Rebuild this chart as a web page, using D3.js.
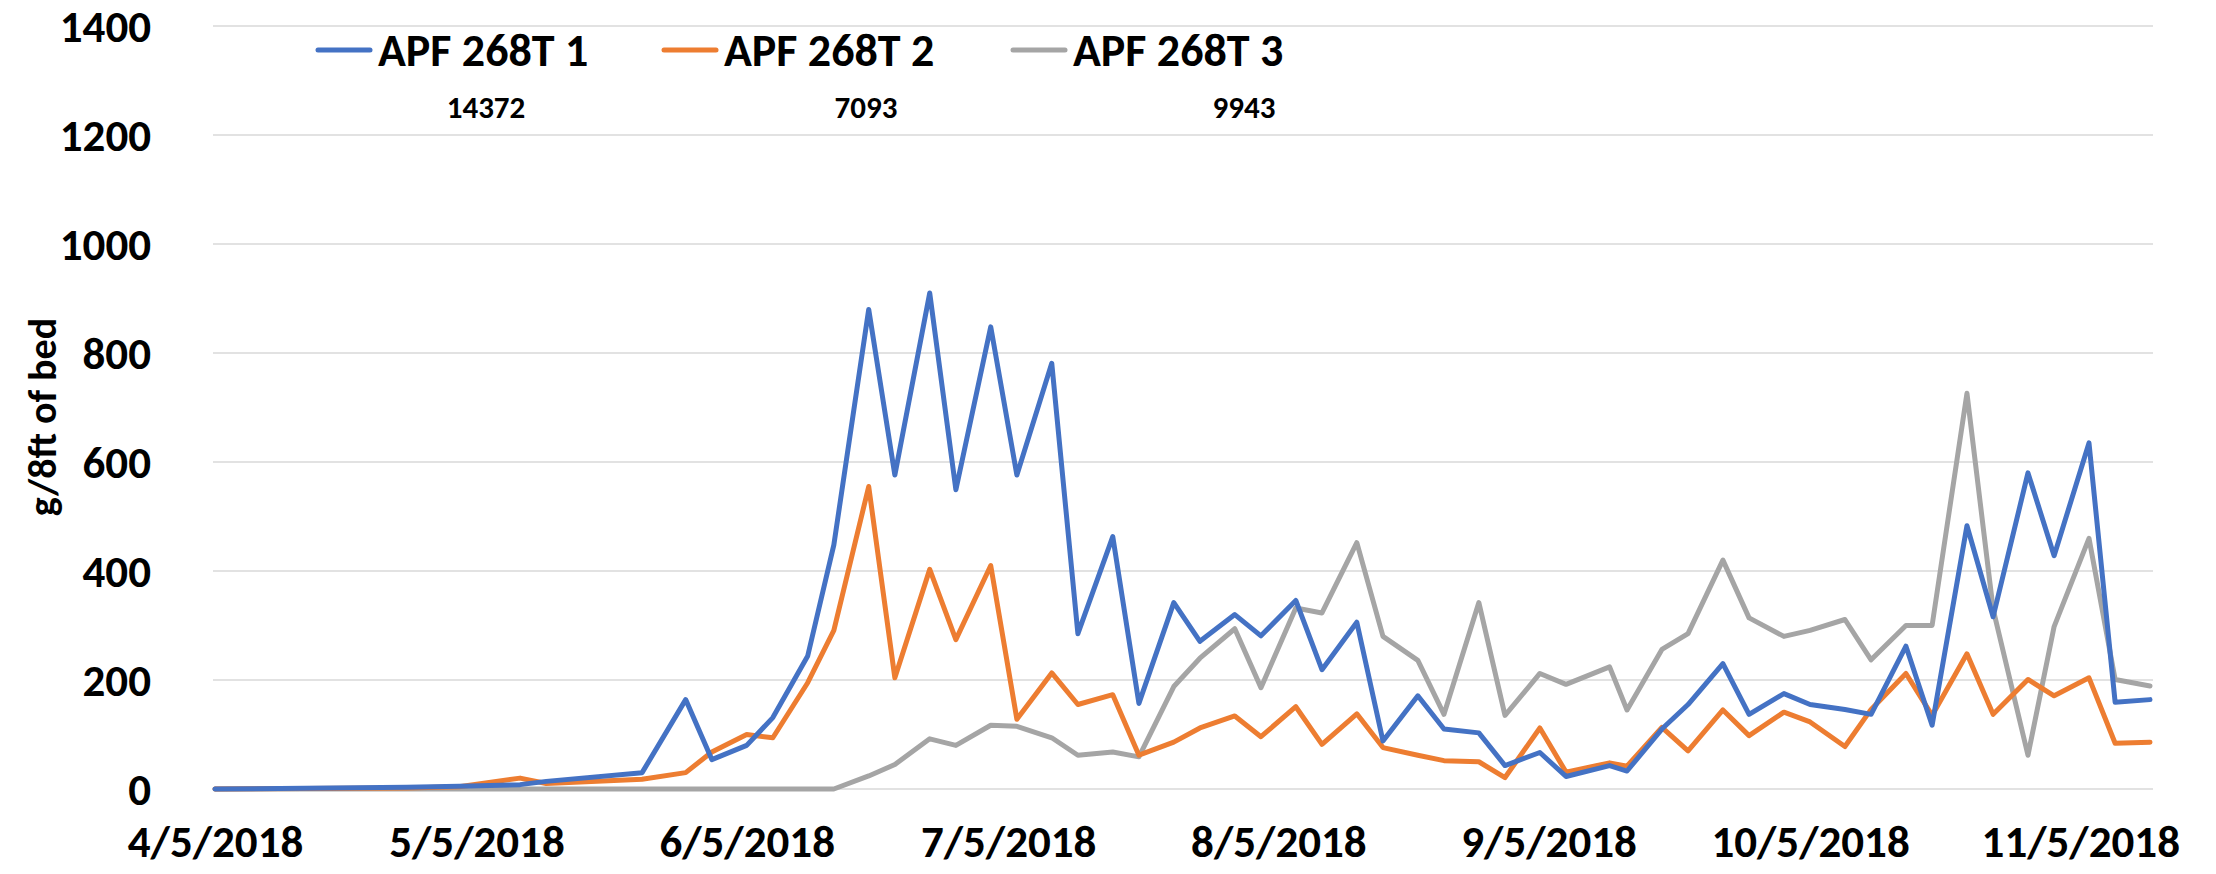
<!DOCTYPE html>
<meta charset="utf-8">
<head>
  <title>APF 268T yield</title>
</head>
<body>
<style>
  html, body {
    margin: 0;
    background: #fff;
  }
  svg text {
    font-family: Calibri, "Liberation Sans", Arial, sans-serif;
    font-weight: bold;
    fill: #000;
  }
  .grid line {
    stroke: #d9d9d9;
    stroke-width: 1.5px;
  }
  .series {
    fill: none;
    stroke-width: 5px;
    stroke-linejoin: round;
    stroke-linecap: round;
  }
</style>
<div id="chart"></div>
<script src="https://cdn.jsdelivr.net/npm/d3@7"></script>
<script>

// sample dates (twice a week in season)
var dates = [
  "2018-04-05", "2018-04-27", "2018-05-03", "2018-05-10", "2018-05-13", "2018-05-24",
  "2018-05-29", "2018-06-01", "2018-06-05", "2018-06-08", "2018-06-12", "2018-06-15",
  "2018-06-19", "2018-06-22", "2018-06-26", "2018-06-29", "2018-07-03", "2018-07-06",
  "2018-07-10", "2018-07-13", "2018-07-17", "2018-07-20", "2018-07-24", "2018-07-27",
  "2018-07-31", "2018-08-03", "2018-08-07", "2018-08-10", "2018-08-14", "2018-08-17",
  "2018-08-21", "2018-08-24", "2018-08-28", "2018-08-31", "2018-09-04", "2018-09-07",
  "2018-09-12", "2018-09-14", "2018-09-18", "2018-09-21", "2018-09-25", "2018-09-28",
  "2018-10-02", "2018-10-05", "2018-10-09", "2018-10-12", "2018-10-16", "2018-10-19",
  "2018-10-23", "2018-10-26", "2018-10-30", "2018-11-02", "2018-11-06", "2018-11-09",
  "2018-11-13"
];

var apf1 = [
  0, 3, 5, 8, 14, 30,
  164, 54, 80, 131, 244, 448,
  880, 576, 910, 549, 848, 576,
  781, 285, 463, 157, 342, 271,
  320, 281, 346, 219, 306, 88,
  171, 110, 103, 43, 67, 23,
  43, 33, 110, 155, 230, 137,
  175, 155, 146, 137, 262, 117,
  483, 316, 580, 428, 635, 159,
  164
];

var apf2 = [
  0, 2, 4, 20, 10, 18,
  30, 68, 100, 94, 195, 291,
  555, 204, 403, 274, 410, 128,
  213, 155, 173, 62, 86, 112,
  134, 96, 151, 82, 138, 76,
  62, 52, 50, 21, 112, 31,
  48, 42, 113, 70, 145, 98,
  141, 123, 78, 146, 212, 135,
  248, 137, 201, 171, 204, 84,
  86
];

var apf3 = [
  0, 0, 0, 0, 0, 0,
  0, 0, 0, 0, 0, 0,
  24, 45, 92, 80, 117, 115,
  94, 62, 68, 59, 188, 240,
  294, 186, 332, 323, 452, 280,
  236, 137, 342, 135, 212, 192,
  224, 145, 256, 285, 420, 314,
  280, 291, 311, 237, 300, 300,
  726, 330, 62, 298, 460, 201,
  189
];

var seriesNames = ["APF 268T 1", "APF 268T 2", "APF 268T 3"];
var seriesTotals = ["14372", "7093", "9943"];
var seriesColors = ["#4472C4", "#ED7D31", "#A5A5A5"];
var yTicks = [0, 200, 400, 600, 800, 1000, 1200, 1400];
var xTicks = ["2018-04-05", "2018-05-05", "2018-06-05", "2018-07-05",
              "2018-08-05", "2018-09-05", "2018-10-05", "2018-11-05"];
var yLabel = "g/8ft of bed";

var width = 2216,
    height = 874;

var parse = d3.timeParse("%Y-%m-%d"),
    fmt = d3.timeFormat("%-m/%-d/%Y");

var x = d3.scaleTime()
    .domain([parse("2018-04-05"), parse("2018-11-13")])
    .range([215, 2150]);

var y = d3.scaleLinear()
    .domain([0, 1400])
    .range([789, 26]);

var svg = d3.select("#chart").append("svg")
    .attr("width", width)
    .attr("height", height);

// horizontal gridlines
svg.append("g")
    .attr("class", "grid")
  .selectAll("line")
    .data(yTicks)
  .enter().append("line")
    .attr("x1", 213)
    .attr("x2", 2153)
    .attr("y1", function(d) { return y(d); })
    .attr("y2", function(d) { return y(d); });

// y axis labels
var yAxis = svg.append("g")
    .attr("transform", "translate(215,0)")
    .call(d3.axisLeft(y).tickValues(yTicks).tickSize(0).tickPadding(64).tickFormat(d3.format("d")));
yAxis.select(".domain").remove();
yAxis.selectAll("text")
    .style("font-size", "45px")
    .attr("dy", "0.35em");

// x axis labels
var xAxis = svg.append("g")
    .attr("transform", "translate(0,789)")
    .call(d3.axisBottom(x).tickValues(xTicks.map(parse)).tickSize(0).tickPadding(36).tickFormat(fmt));
xAxis.select(".domain").remove();
xAxis.selectAll("text")
    .style("font-size", "45px");

// y axis title
svg.append("text")
    .attr("transform", "translate(56,417) rotate(-90)")
    .attr("text-anchor", "middle")
    .style("font-size", "40px")
    .text(yLabel);

// the three lines, gray drawn first
var line = d3.line()
    .x(function(d) { return x(d.date); })
    .y(function(d) { return y(d.value); });

var allSeries = [apf1, apf2, apf3].map(function(vals, i) {
  return {
    name: seriesNames[i],
    color: seriesColors[i],
    values: vals.map(function(v, j) { return { date: parse(dates[j]), value: v }; })
  };
});

svg.append("g")
  .selectAll("path")
    .data(allSeries.slice().reverse())
  .enter().append("path")
    .attr("class", "series")
    .attr("stroke", function(d) { return d.color; })
    .attr("d", function(d) { return line(d.values); });

// legend
var legendX = [318, 664, 1013];
var legend = svg.append("g")
  .selectAll("g")
    .data(allSeries)
  .enter().append("g")
    .attr("transform", function(d, i) { return "translate(" + legendX[i] + ",50)"; });

legend.append("line")
    .attr("x1", 0)
    .attr("x2", 52)
    .attr("stroke", function(d) { return d.color; })
    .attr("stroke-width", 5)
    .attr("stroke-linecap", "round");

legend.append("text")
    .attr("x", 60)
    .attr("dy", "0.35em")
    .style("font-size", "46px")
    .text(function(d) { return d.name; });

// season totals under the legend
var totalX = [486, 866, 1244];
svg.append("g")
  .selectAll("text")
    .data(seriesTotals)
  .enter().append("text")
    .attr("x", function(d, i) { return totalX[i]; })
    .attr("y", 107)
    .attr("dy", "0.35em")
    .attr("text-anchor", "middle")
    .style("font-size", "31px")
    .text(function(d) { return d; });

</script>
</body>
